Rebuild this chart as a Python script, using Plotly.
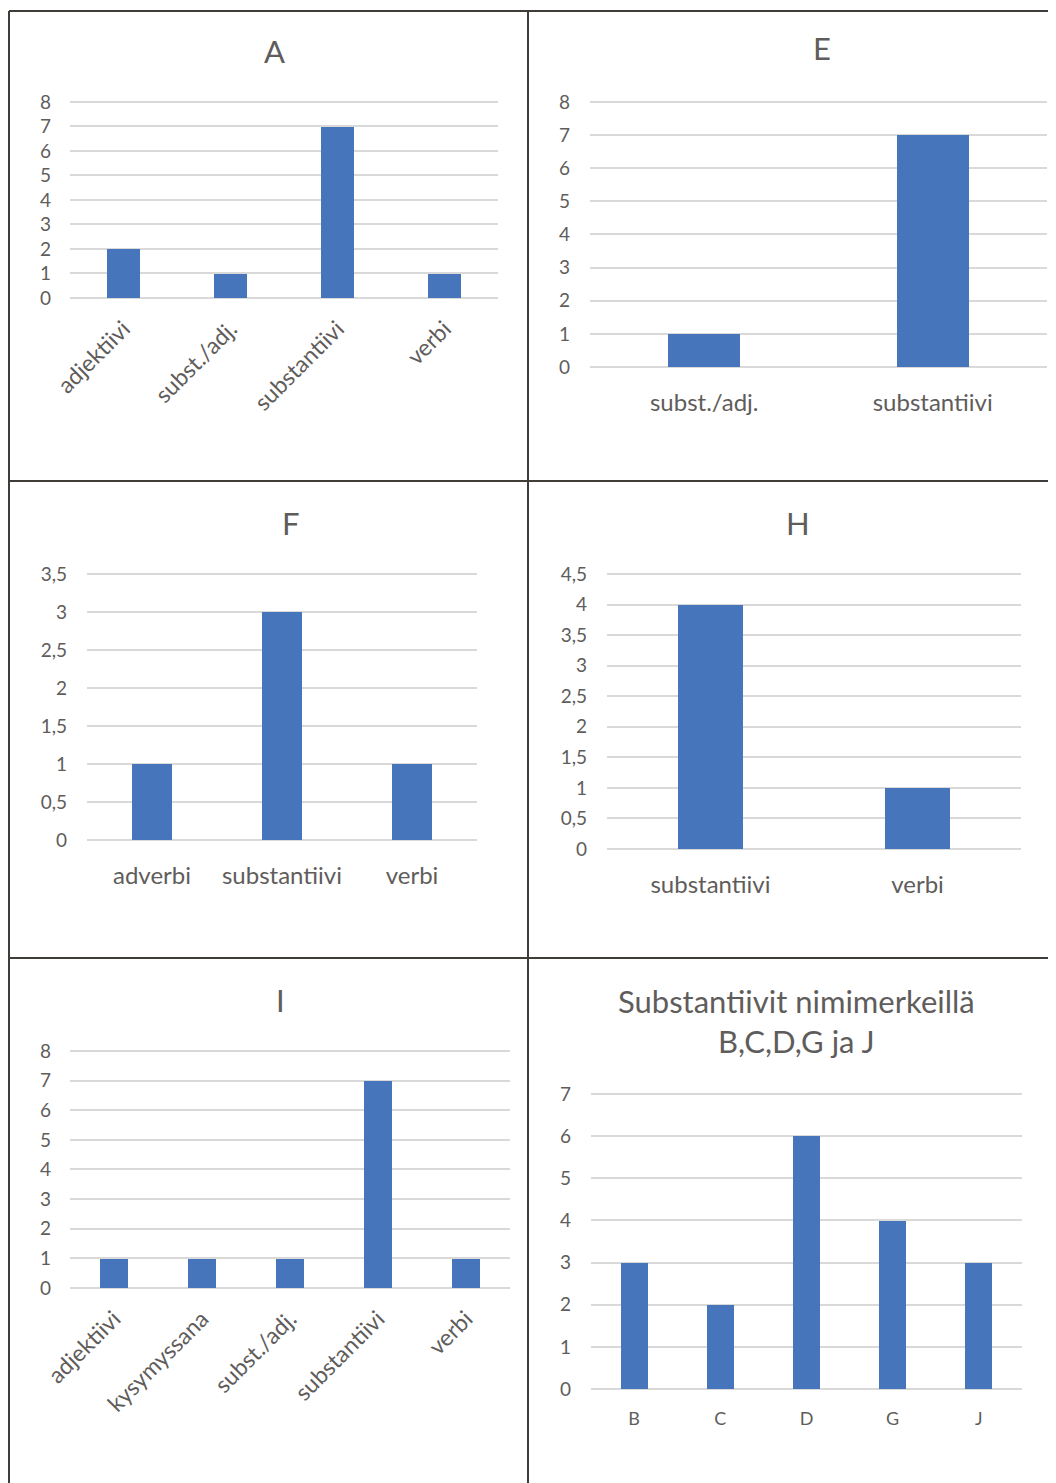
import plotly.graph_objects as go

# page has an 8px body margin; all pixel positions below are page positions
OFF = 8
W, H = 1056 - OFF, 1483 - OFF

# ---------------- data ----------------
A_categories = ["adjektiivi", "subst./adj.", "substantiivi", "verbi"]
A_values = [2, 1, 7, 1]
E_categories = ["subst./adj.", "substantiivi"]
E_values = [1, 7]
F_categories = ["adverbi", "substantiivi", "verbi"]
F_values = [1, 3, 1]
H_categories = ["substantiivi", "verbi"]
H_values = [4, 1]
I_categories = ["adjektiivi", "kysymyssana", "subst./adj.", "substantiivi", "verbi"]
I_values = [1, 1, 1, 7, 1]
S_categories = ["B", "C", "D", "G", "J"]
S_values = [3, 2, 6, 4, 3]

ticks_0_8 = [0, 1, 2, 3, 4, 5, 6, 7, 8]
ticks_0_8_text = ["0", "1", "2", "3", "4", "5", "6", "7", "8"]
ticks_F = [0, 0.5, 1, 1.5, 2, 2.5, 3, 3.5]
ticks_F_text = ["0", "0,5", "1", "1,5", "2", "2,5", "3", "3,5"]
ticks_H = [0, 0.5, 1, 1.5, 2, 2.5, 3, 3.5, 4, 4.5]
ticks_H_text = ["0", "0,5", "1", "1,5", "2", "2,5", "3", "3,5", "4", "4,5"]
ticks_S = [0, 1, 2, 3, 4, 5, 6, 7]
ticks_S_text = ["0", "1", "2", "3", "4", "5", "6", "7"]

titles = ["A", "E", "F", "H", "I", "Substantiivit nimimerkeillä<br>B,C,D,G ja J"]

# ---------------- styling ----------------
FONT = "Lato, 'Open Sans', sans-serif"
TXT = "#5f5d5b"
BAR = "#4675BC"
GRID = "#d9d9d9"
BORDER = "#403c38"


def px(x):
    return (x - OFF) / W


def py(y):
    return 1 - (y - OFF) / H


# panel geometry in page pixels: left, right, top (max gridline), bottom (zero line)
panels = [
    dict(cats=A_categories, vals=A_values, tv=ticks_0_8, tt=ticks_0_8_text,
         box=(70, 498, 102, 298), title=(274, 51), angle=-45, catsize=23, cstand=12, ystand=18),
    dict(cats=E_categories, vals=E_values, tv=ticks_0_8, tt=ticks_0_8_text,
         box=(590, 1047, 102, 367), title=(822, 48), angle=0, catsize=24, cstand=19, ystand=19),
    dict(cats=F_categories, vals=F_values, tv=ticks_F, tt=ticks_F_text,
         box=(87, 477, 574, 840), title=(291, 523), angle=0, catsize=24, cstand=19, ystand=19),
    dict(cats=H_categories, vals=H_values, tv=ticks_H, tt=ticks_H_text,
         box=(607, 1021, 574, 849), title=(798, 523), angle=0, catsize=24, cstand=19, ystand=19),
    dict(cats=I_categories, vals=I_values, tv=ticks_0_8, tt=ticks_0_8_text,
         box=(70, 510, 1051, 1288), title=(280, 1000), angle=-45, catsize=23, cstand=12, ystand=18),
    dict(cats=S_categories, vals=S_values, tv=ticks_S, tt=ticks_S_text,
         box=(591, 1022, 1094, 1389), title=(796, 1021), angle=0, catsize=18, cstand=17, ystand=19),
]

fig = go.Figure()
layout = dict(
    width=W, height=H, margin=dict(l=0, r=0, t=0, b=0),
    paper_bgcolor="white", plot_bgcolor="white",
    showlegend=False, font=dict(family=FONT, color=TXT, size=19),
    annotations=[], shapes=[], bargap=0,
)

for i, p in enumerate(panels):
    n = i + 1
    xa = "x" if n == 1 else f"x{n}"
    ya = "y" if n == 1 else f"y{n}"
    fig.add_trace(go.Bar(x=p["cats"], y=p["vals"], xaxis=xa, yaxis=ya,
                         marker=dict(color=BAR, line=dict(width=0)), width=0.315,
                         hoverinfo="skip"))
    l, r, t, b = p["box"]
    key = "" if n == 1 else str(n)
    top = p["tv"][-1]
    layout["xaxis" + key] = dict(
        domain=[px(l), px(r)], anchor=ya, type="category",
        showgrid=False, showline=False, zeroline=False, ticks="",
        tickangle=p["angle"], tickfont=dict(size=p["catsize"], color=TXT, family=FONT),
        ticklabelstandoff=p["cstand"], automargin=False, fixedrange=True,
    )
    layout["yaxis" + key] = dict(
        domain=[py(b), py(t) + 0.0015], anchor=xa,
        range=[0, top * (1 + 0.0015 * H / (b - t))], tickvals=p["tv"], ticktext=p["tt"],
        showgrid=True, gridcolor=GRID, gridwidth=1.6,
        zeroline=True, zerolinecolor=GRID, zerolinewidth=1.6,
        showline=False, ticks="", tickfont=dict(size=19, color=TXT, family=FONT),
        ticklabelstandoff=p["ystand"], automargin=False, fixedrange=True,
    )
    tx, ty = p["title"]
    layout["annotations"].append(dict(
        text=titles[i], x=px(tx), y=py(ty), xref="paper", yref="paper",
        xanchor="center", yanchor="middle", showarrow=False,
        font=dict(size=31, color=TXT, family=FONT),
    ))


# frame / cell borders
def hline(y, x0, x1):
    return dict(type="line", xref="paper", yref="paper", x0=px(x0), x1=px(x1),
                y0=py(y), y1=py(y), line=dict(color=BORDER, width=2), layer="above")


def vline(x, y0, y1):
    return dict(type="line", xref="paper", yref="paper", x0=px(x), x1=px(x),
                y0=py(y0), y1=py(y1), line=dict(color=BORDER, width=2), layer="above")


layout["shapes"] = [
    hline(11, 9, 1056), hline(481, 9, 1056), hline(958, 9, 1056),
    vline(9, 11, 1483), vline(528, 11, 1483),
]

fig.update_layout(**layout)
fig.write_html("out.html", config={"displayModeBar": False})
